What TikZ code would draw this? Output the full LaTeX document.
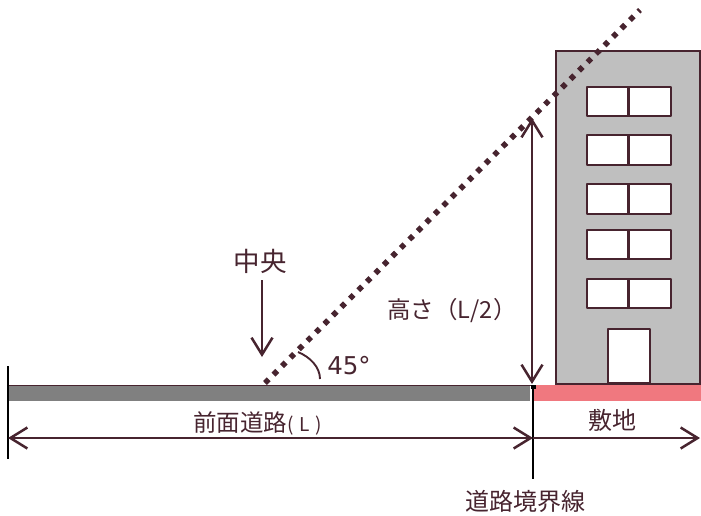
\documentclass[tikz,border=0pt]{standalone}
\usepackage{fontspec}
\setmainfont{DejaVu Sans}
\newfontfamily\jp{Noto Sans CJK JP}
\usetikzlibrary{arrows.meta}
\definecolor{ink}{HTML}{47242F}
\definecolor{wallgray}{HTML}{BFBFBF}
\definecolor{roadgray}{HTML}{808080}
\definecolor{sitepink}{HTML}{F0787F}
\tikzset{
  lbl/.style={text=ink,inner sep=0pt,font=\jp\fontsize{#1}{#1}\selectfont},
  wall/.style={draw=ink,line width=2.2pt,fill=wallgray},
  pane/.style={draw=ink,line width=2.8pt,fill=white,line join=round},
  dim/.style={draw=ink,line width=2.5pt,{Straight Barb[length=17pt,width=21pt,line width=2.5pt]}-{Straight Barb[length=17pt,width=21pt,line width=2.5pt]}},
  dimto/.style={draw=ink,line width=2.5pt,-{Straight Barb[length=17pt,width=21pt,line width=2.5pt]}},
  limit/.style={draw=ink,line width=5.6pt,dash pattern=on 5.2pt off 6.77pt},
  bound/.style={draw=black,line width=1.9pt},
}
\begin{document}
\begin{tikzpicture}[x=1pt,y=-1pt]
\useasboundingbox (0,0) rectangle (701,515);
% ground
\fill[sitepink] (534,385) rectangle (701,401);
\fill[roadgray] (9,385) rectangle (530,401);
\draw[draw=ink,line width=1pt] (9,385) -- (532,385);
% building
\draw[wall] (556,51) rectangle (700,384);
\foreach \t/\b in {87/116,135/165,184/214,230/259,279/308}{
  \draw[pane] (587,\t) rectangle (671,\b);
  \draw[draw=ink,line width=2.8pt] (628.5,\t) -- (628.5,\b);
}
\draw[pane] (608,329) rectangle (650,383);
% named ends
\coordinate (leftTop) at (8,366);
\coordinate (leftBot) at (8,459);
\coordinate (bTop) at (533,385);
\coordinate (bBot) at (533,479);
\coordinate (dimL) at (8,438);
\coordinate (dimM) at (533,438);
\coordinate (dimR) at (700,438);
\coordinate (hTop) at (532,118);
\coordinate (hBot) at (532,384);
\coordinate (cTop) at (262,280);
\coordinate (cBot) at (262,357);
\coordinate (limA) at (265,383);
\coordinate (limB) at (640,10);
\coordinate (arcA) at (298,352);
\coordinate (arcB) at (320,379);
% lines
\draw[bound] (leftTop) -- (leftBot);
\draw[bound] (bTop) -- (bBot);
\fill[black] (530.5,385) rectangle (535.5,389);
\draw[dim] (dimL) -- (dimM);
\draw[dimto] (dimM) -- (dimR);
\draw[dim] (hTop) -- (hBot);
\draw[dimto] (cTop) -- (cBot);
\draw[limit] (limA) -- (limB);
\draw[draw=ink,line width=1.9pt] (arcA) .. controls (310,357) and (320,367) .. (arcB);
% labels
\node[lbl=26.5] (center) at (260,261.5) {中央};
\node[text=ink,inner sep=0pt,font=\fontsize{24.5}{24.5}\selectfont] (deg) at (349,366) {45°};
\node[lbl=23.5] (height) at (452,310.5) {高さ（L/2）};
\node[lbl=23.5,anchor=west] (road) at (193,423.5) {前面道路\fontsize{19}{19}\selectfont(\hspace{6pt}L\hspace{6pt})};
\node[lbl=24] (site) at (612,420.5) {敷地};
\node[lbl=24] (boundary) at (525,501) {道路境界線};
\end{tikzpicture}
\end{document}
